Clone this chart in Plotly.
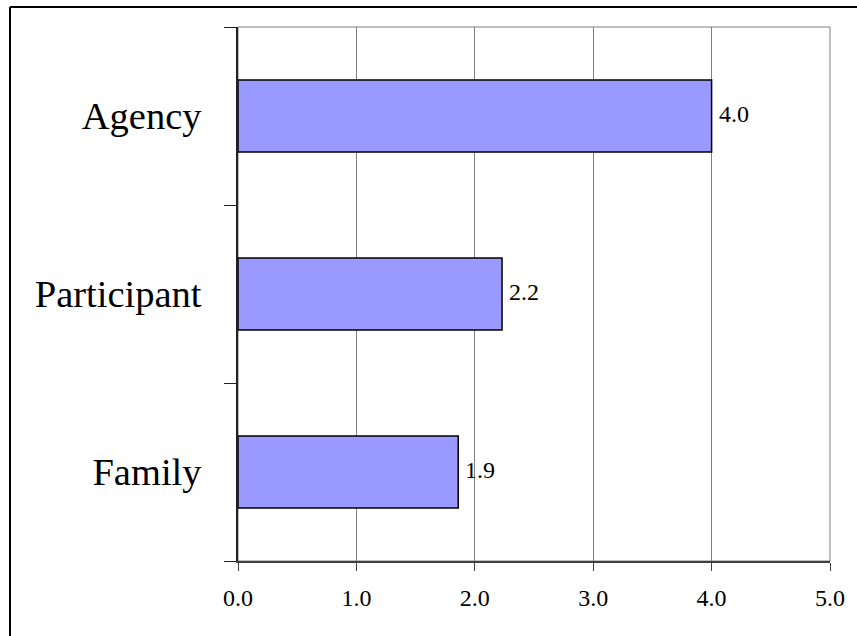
import plotly.graph_objects as go

# Survey groups (bottom to top) and their mean scores
groups = ["Family", "Participant", "Agency"]
scores = [1.86, 2.23, 4.0]
x_ticks = [0, 1, 2, 3, 4, 5]

W, H = 857, 636
L, R, T, B = 238, 27, 27, 75
plot_w = W - L - R
plot_h = H - T - B

fig = go.Figure()
fig.add_trace(go.Bar(
    y=groups, x=scores, orientation="h",
    marker=dict(color="#9999FF", line=dict(color="#000000", width=1.5)),
    hoverinfo="skip",
))

# value labels to the right of each bar
for g, v in zip(groups, scores):
    fig.add_annotation(
        x=v, y=g, xref="x", yref="y", text=f"{v:.1f}",
        showarrow=False, xanchor="left", yanchor="middle", xshift=5, yshift=2,
        font=dict(family="Liberation Serif", size=24, color="#000000"),
    )

fx0 = (10 - L) / plot_w
fy1 = 1 + (T - 7) / plot_h
shapes = [
    # plot-area frame (top / right edges in gray)
    dict(type="rect", xref="paper", yref="paper", x0=0, x1=1, y0=0, y1=1,
         line=dict(color="#808080", width=1), layer="below"),
    # outer chart frame: left and top edges
    dict(type="line", xref="paper", yref="paper", x0=fx0, x1=fx0,
         y0=-(B + 20) / plot_h, y1=fy1, line=dict(color="#000000", width=2)),
    dict(type="line", xref="paper", yref="paper", x0=fx0, x1=(W + 20 - L) / plot_w,
         y0=fy1, y1=fy1, line=dict(color="#000000", width=2)),
]

fig.update_layout(
    width=W, height=H,
    margin=dict(l=L, r=R, t=T, b=B, pad=0),
    paper_bgcolor="#FFFFFF", plot_bgcolor="#FFFFFF",
    showlegend=False, bargap=0.595,
    shapes=shapes,
    font=dict(family="Liberation Serif", color="#000000"),
)
fig.update_xaxes(
    range=[0, 5], tickvals=x_ticks, tickformat=".1f",
    showgrid=True, gridcolor="#808080", gridwidth=1,
    showline=True, linecolor="#404040", linewidth=1.5,
    ticks="outside", ticklen=8, tickcolor="#404040", tickwidth=1,
    tickfont=dict(family="Liberation Serif", size=24, color="#000000"),
    ticklabelstandoff=6, zeroline=False, fixedrange=True,
)
fig.update_yaxes(
    categoryorder="array", categoryarray=groups, range=[-0.5, 2.5],
    showgrid=False, showline=True, linecolor="#202020", linewidth=1.5,
    ticks="outside", tickson="boundaries", ticklen=12, tickcolor="#202020", tickwidth=1,
    tickfont=dict(family="Liberation Serif", size=38.5, color="#000000"),
    ticklabelstandoff=27, zeroline=False, fixedrange=True,
)

fig.write_html("out.html")
